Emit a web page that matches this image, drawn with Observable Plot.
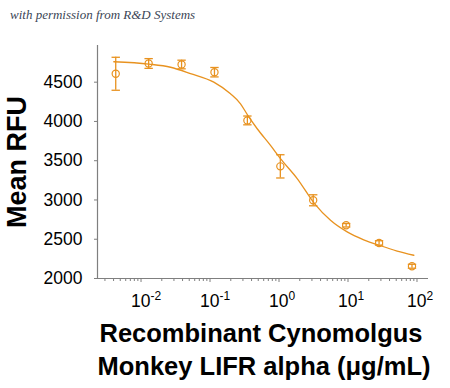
<!DOCTYPE html>
<html>
<head>
<meta charset="utf-8">
<script src="https://cdn.jsdelivr.net/npm/d3@7"></script>
<script src="https://cdn.jsdelivr.net/npm/@observablehq/plot@0.6"></script>
<style>
  html, body { margin: 0; padding: 0; background: #fff; }
  #wrap { position: relative; width: 450px; height: 388px; }
  #note { position: absolute; left: 10px; top: 7px; font-family: "Liberation Serif", "DejaVu Serif", serif; font-style: italic; font-size: 13px; color: #3b4656; }
</style>
</head>
<body>
<div id="wrap"><div id="note">with permission from R&amp;D Systems</div></div>
<script>
// Data points (concentration in µg/mL, mean RFU, error)
const conc = [0.0043, 0.0129, 0.0387, 0.116, 0.348, 1.045, 3.13, 9.4, 28.2, 84.6];
const rfu  = [4607, 4738, 4725, 4627, 4013, 3428, 2996, 2678, 2453, 2156];
const err  = [210, 62, 55, 60, 56, 148, 70, 22, 28, 25];

// Fitted curve
const curveX = [0.00403, 0.0130, 0.0268, 0.0521, 0.1135, 0.198, 0.2767, 0.353, 0.483, 0.753, 1.05, 1.835, 3.27, 5.58, 9.73, 16.9, 29.6, 51.6, 89.9];
const curveY = [4760, 4730, 4690, 4610, 4500, 4352, 4225, 4077, 3907, 3695, 3526, 3272, 2954, 2741, 2593, 2493, 2417, 2350, 2296];

const yTicks = [2000, 2500, 3000, 3500, 4000, 4500];
const xMajor = [0.01, 0.1, 1, 10, 100];
const xExp = ["-2", "-1", "0", "1", "2"];
const xMinor = [];
for (const d of [0.001, 0.01, 0.1, 1, 10, 100]) for (let k = 2; k <= 9; k++) xMinor.push(+(d * k).toPrecision(3));

const points = conc.map((c, i) => ({x: c, y: rfu[i], lo: rfu[i] - err[i], hi: rfu[i] + err[i]}));
const curve = curveX.map((c, i) => ({x: c, y: curveY[i]}));

const xDomain = [0.00234, 146.8];
const color = "#e8921f";
const axisColor = "#7f7f7f";

const cap = {
  draw(ctx, size) {
    const r = Math.sqrt(size / Math.PI);
    ctx.moveTo(-r, 0);
    ctx.lineTo(r, 0);
  }
};

const chart = Plot.plot({
  width: 450,
  height: 388,
  marginLeft: 97,
  marginRight: 22,
  marginTop: 45,
  marginBottom: 110,
  style: {fontFamily: "'Liberation Sans', Arial, sans-serif", background: "#fff", overflow: "visible"},
  x: {type: "log", domain: xDomain},
  y: {domain: [2000, 4967]},
  marks: [
    Plot.ruleY([2000], {stroke: axisColor, strokeWidth: 1.2}),
    Plot.ruleX([xDomain[0]], {stroke: axisColor, strokeWidth: 1.2}),
    Plot.axisY({ticks: yTicks, tickSize: 3, tickPadding: 12, tickFormat: "d", stroke: axisColor, fontSize: 17.5, fill: "#000", label: null}),
    Plot.axisX({ticks: xMinor.filter(v => v >= xDomain[0] && v <= xDomain[1]), tickSize: 3, tickFormat: () => "", stroke: axisColor, label: null}),
    Plot.axisX({ticks: xMajor, tickSize: 4, tickPadding: 12, tickFormat: (d, i) => "10", stroke: axisColor, fontSize: 17.5, fill: "#000", label: null}),
    Plot.line(curve, {x: "x", y: "y", curve: "monotone-x", stroke: color, strokeWidth: 1.3}),
    Plot.ruleX(points, {x: "x", y1: "lo", y2: "hi", stroke: color, strokeWidth: 1.3}),
    Plot.dot(points, {x: "x", y: "hi", symbol: cap, r: 4.2, stroke: color, strokeWidth: 1.3}),
    Plot.dot(points, {x: "x", y: "lo", symbol: cap, r: 4.2, stroke: color, strokeWidth: 1.3}),
    Plot.dot(points, {x: "x", y: "y", r: 3.6, stroke: color, fill: "none", strokeWidth: 1.2}),
    Plot.text(["Mean RFU"], {frameAnchor: "left", textAnchor: "middle", dx: -80, rotate: -90, fontSize: 27, fontWeight: "bold", fill: "#000"}),
    Plot.text(["Recombinant Cynomolgus"], {frameAnchor: "bottom", dx: -2, dy: 63, fontSize: 25.5, fontWeight: "bold", fill: "#000"}),
    Plot.text(["Monkey LIFR alpha (\u03bcg/mL)"], {frameAnchor: "bottom", dx: 1, dy: 96, fontSize: 25.5, fontWeight: "bold", fill: "#000"})
  ]
});

document.getElementById("wrap").appendChild(chart);

// Add superscript exponents to the major x tick labels
const axes = chart.querySelectorAll("g[aria-label='x-axis tick label']");
const majorAxis = axes[axes.length - 1];
if (majorAxis) {
  majorAxis.querySelectorAll("text").forEach((t, i) => {
    const ts = document.createElementNS("http://www.w3.org/2000/svg", "tspan");
    ts.setAttribute("dy", "-7");
    ts.setAttribute("font-size", "12");
    ts.textContent = xExp[i];
    t.appendChild(ts);
    t.setAttribute("text-anchor", "start");
    t.setAttribute("dx", "-10");
  });
}
</script>
</body>
</html>
